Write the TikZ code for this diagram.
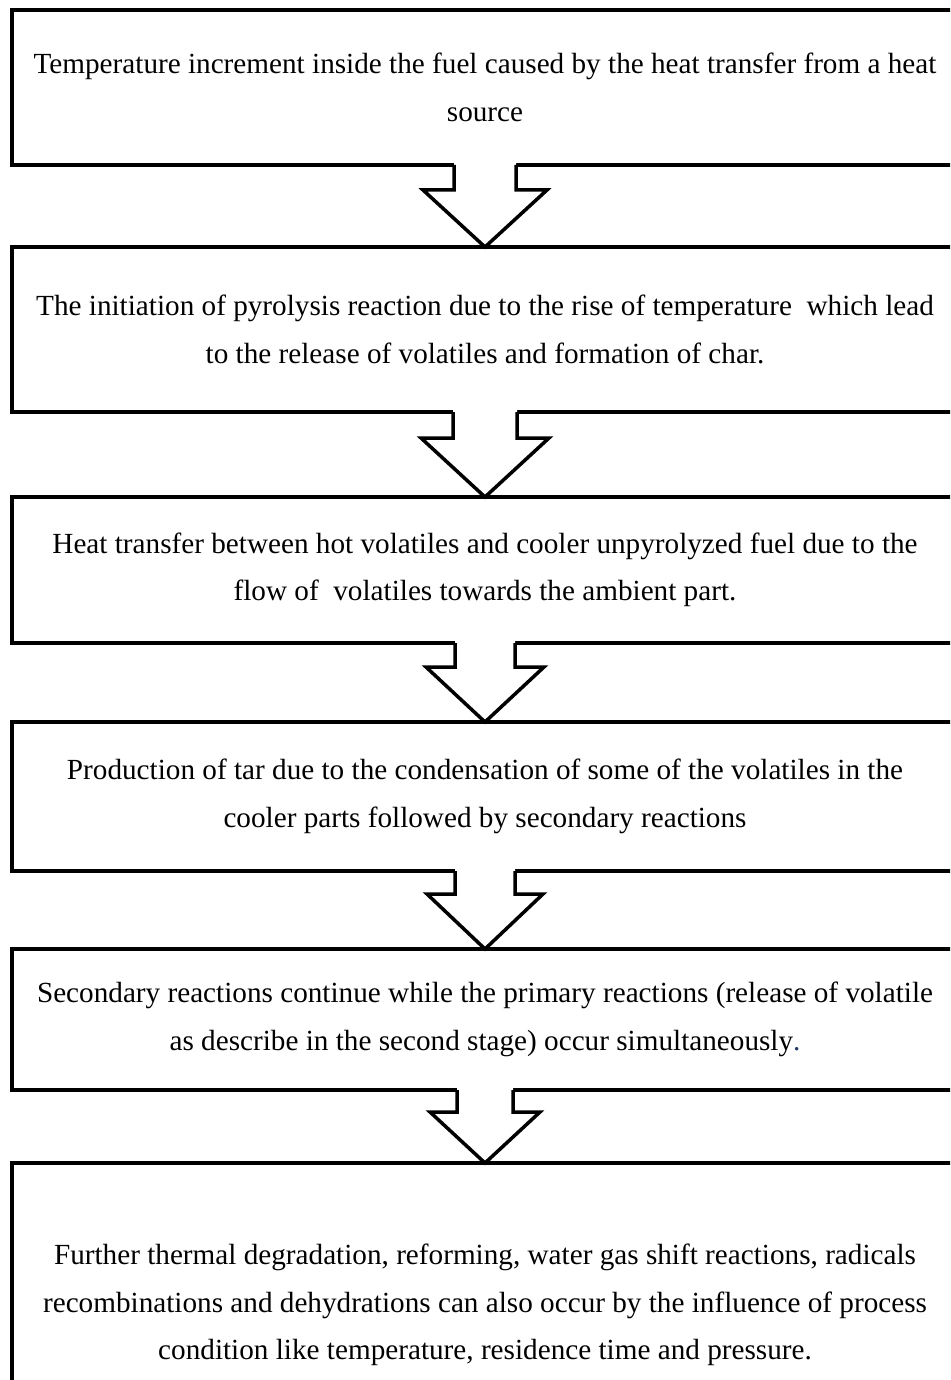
\documentclass[tikz,border=0pt]{standalone}
\usepackage{fontspec}
\setmainfont{Liberation Serif}
\usetikzlibrary{calc}
\definecolor{dotblue}{RGB}{31,56,100}
\newcommand\stagearrow[5]{%
  \fill[white] ($(#1.south)+(-#3,-3)$) -- ($(#1.south)+(-#3,#5)$) -- ($(#1.south)+(-#4,#5)$) -- (#2.north) -- ($(#1.south)+(#4,#5)$) -- ($(#1.south)+(#3,#5)$) -- ($(#1.south)+(#3,-3)$) -- cycle;
  \draw[blockarrow] ($(#1.south)+(-#3,0)$) -- ($(#1.south)+(-#3,#5)$) -- ($(#1.south)+(-#4,#5)$) -- (#2.north) -- ($(#1.south)+(#4,#5)$) -- ($(#1.south)+(#3,#5)$) -- ($(#1.south)+(#3,0)$);
}
\begin{document}
\begin{tikzpicture}[x=1pt,y=-1pt,
  stagebox/.style={draw, line width=4pt, outer sep=0pt, minimum width=946pt, inner sep=0pt,
    align=center, font=\fontsize{29.2}{47.5}\selectfont},
  blockarrow/.style={line width=3.5pt, line join=miter}]
\useasboundingbox (0,0) rectangle (950,1380);
\clip (0,0) rectangle (950,1380);
\fill[white] (0,0) rectangle (950,1380);
\node[stagebox, minimum height=155pt] (b1) at (485,87.5)
  {Temperature increment inside the fuel caused by the heat transfer from a heat\\ source};
\node[stagebox, minimum height=165pt] (b2) at (485,329.5)
  {The initiation of pyrolysis reaction due to the rise of temperature \ which lead\\ to the release of volatiles and formation of char.};
\node[stagebox, minimum height=146pt] (b3) at (485,570)
  {Heat transfer between hot volatiles and cooler unpyrolyzed fuel due to the\\ flow of \ volatiles towards the ambient part.};
\node[stagebox, minimum height=149pt] (b4) at (485,796.5)
  {Production of tar due to the condensation of some of the volatiles in the\\ cooler parts followed by secondary reactions};
\node[stagebox, minimum height=141pt] (b5) at (485,1019.5)
  {Secondary reactions continue while the primary reactions (release of volatile\\ as describe in the second stage) occur simultaneously{\color{dotblue}.}};
\node[stagebox, minimum height=284pt] (b6) at (485,1305)
  {Further thermal degradation, reforming, water gas shift reactions, radicals\\ recombinations and dehydrations can also occur by the influence of process\\ condition like temperature, residence time and pressure.};
\stagearrow{b1}{b2}{31}{62}{25}
\stagearrow{b2}{b3}{32}{64}{26}
\stagearrow{b3}{b4}{30}{59}{24}
\stagearrow{b4}{b5}{30}{58}{23}
\stagearrow{b5}{b6}{28}{55}{22}
\end{tikzpicture}
\end{document}
